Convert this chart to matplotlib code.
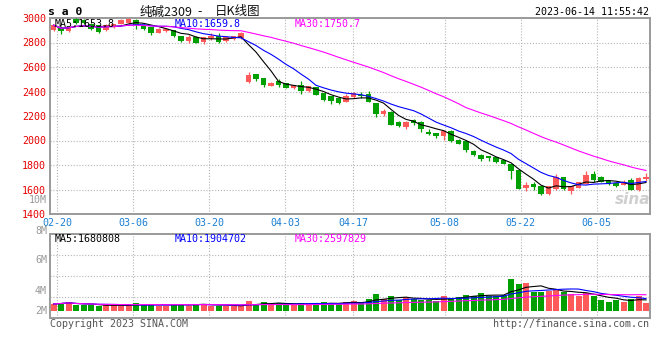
import matplotlib
matplotlib.use("Agg")
import matplotlib.pyplot as plt
import numpy as np
import pandas as pd

# ---------------- data ----------------
opens = [2900, 2919, 2892, 2990, 2985, 2955, 2940, 2902, 2925, 2955,
         2960, 2980, 2946, 2927, 2881, 2892, 2900, 2850, 2815, 2845,
         2808, 2837, 2857, 2813, 2827, 2835, 2477, 2542, 2510, 2447,
         2483, 2469, 2428, 2450, 2401, 2434, 2388, 2360, 2350, 2317,
         2353, 2372, 2380, 2304, 2217, 2236, 2150, 2114, 2168, 2150,
         2068, 2060, 2038, 2079, 2005, 1992, 1916, 1884, 1870, 1862,
         1837, 1810, 1756, 1613, 1645, 1626, 1567, 1607, 1698, 1590,
         1613, 1648, 1727, 1702, 1667, 1653, 1640, 1676, 1594, 1682]
highs = [2952, 2925, 2932, 2998, 2995, 2962, 2945, 2952, 2955, 2990,
         3000, 2990, 2950, 2930, 2920, 2920, 2905, 2855, 2858, 2850,
         2845, 2875, 2874, 2845, 2853, 2889, 2558, 2545, 2512, 2478,
         2504, 2472, 2455, 2483, 2446, 2438, 2390, 2363, 2355, 2382,
         2398, 2393, 2405, 2306, 2258, 2240, 2163, 2160, 2177, 2163,
         2090, 2062, 2082, 2085, 2010, 1995, 1920, 1886, 1873, 1866,
         1840, 1812, 1760, 1660, 1660, 1630, 1630, 1727, 1705, 1630,
         1665, 1751, 1750, 1710, 1672, 1660, 1678, 1690, 1700, 1735]
lows = [2893, 2867, 2885, 2955, 2950, 2900, 2880, 2895, 2920, 2950,
        2955, 2912, 2905, 2865, 2875, 2885, 2848, 2805, 2800, 2795,
        2786, 2822, 2800, 2808, 2822, 2832, 2469, 2488, 2434, 2443,
        2434, 2425, 2424, 2382, 2395, 2370, 2325, 2300, 2300, 2315,
        2350, 2350, 2315, 2192, 2204, 2125, 2109, 2090, 2127, 2071,
        2046, 2017, 2004, 1990, 1968, 1910, 1870, 1835, 1830, 1815,
        1805, 1683, 1603, 1586, 1600, 1559, 1555, 1600, 1598, 1565,
        1610, 1645, 1665, 1660, 1640, 1620, 1635, 1595, 1590, 1670]
closes = [2941, 2892, 2927, 2963, 2958, 2910, 2888, 2945, 2950, 2980,
          2993, 2946, 2914, 2881, 2914, 2912, 2855, 2812, 2845, 2800,
          2841, 2855, 2805, 2841, 2849, 2881, 2537, 2502, 2450, 2472,
          2450, 2428, 2450, 2401, 2442, 2374, 2333, 2320, 2305, 2363,
          2385, 2367, 2317, 2217, 2241, 2128, 2122, 2155, 2141, 2095,
          2055, 2033, 2079, 1992, 1975, 1924, 1878, 1851, 1857, 1824,
          1810, 1748, 1605, 1640, 1618, 1567, 1626, 1700, 1601, 1626,
          1659, 1721, 1681, 1662, 1645, 1630, 1665, 1598, 1690, 1702]
volumes_m = [1.19, 1.36, 1.60, 1.00, 1.00, 1.00, 0.83, 1.00, 1.00, 0.90,
             0.90, 1.36, 1.00, 1.19, 0.90, 0.90, 1.19, 1.19, 0.90, 1.19,
             1.19, 0.90, 0.90, 0.90, 0.83, 0.83, 1.72, 1.19, 1.54, 1.00,
             1.36, 1.30, 1.00, 1.36, 1.00, 1.36, 1.54, 1.31, 1.31, 1.49,
             1.72, 1.31, 2.07, 2.95, 2.07, 2.60, 1.89, 2.48, 2.07, 1.89,
             1.89, 1.72, 2.65, 2.30, 2.48, 2.78, 2.60, 3.13, 2.65, 2.65,
             2.78, 5.60, 4.72, 4.96, 3.36, 3.36, 3.48, 3.84, 3.36, 3.00,
             2.65, 3.08, 2.65, 1.89, 1.60, 1.89, 1.60, 2.07, 2.60, 1.42]

tick_index = [1, 11, 21, 31, 40, 52, 62, 72]
tick_labels = ["02-20", "03-06", "03-20", "04-03", "04-17", "05-08", "05-22", "06-05"]
price_ticks = [1400, 1600, 1800, 2000, 2200, 2400, 2600, 2800, 3000]
vol_axis_labels = ["10M", "8M", "6M", "4M", "2M"]
price_ma_text = ["MA5:1653.8", "MA10:1659.8", "MA30:1750.7"]
vol_ma_text = ["MA5:1680808", "MA10:1904702", "MA30:2597829"]
title_parts = ["纯碱2309", "-", "日K线图"]
symbol_text = "s a 0"
time_text = "2023-06-14 11:55:42"
copyright_text = "Copyright 2023 SINA.COM"
url_text = "http://finance.sina.com.cn"

# ---------------- styling ----------------
W, H = 660, 360
UP = "#ff5a5a"
DOWN = "#00a000"
FRAME = "#9a9a9a"
GRID = "#b4b4b4"
MA_COLORS = ["#000000", "#0000ff", "#ff00ff"]
MONO = "DejaVu Sans Mono"
CJK = ["Noto Sans CJK SC", "DejaVu Sans"]
FS = 7.2

o = np.array(opens, float)
h = np.array(highs, float)
l = np.array(lows, float)
c = np.array(closes, float)
v = np.array(volumes_m, float)
n = len(c)
x = np.arange(n)
up = c >= o
colors = np.where(up, UP, DOWN)

cs = pd.Series(c)
vs = pd.Series(v)
price_mas = [cs.rolling(w, min_periods=1).mean().values for w in (5, 10, 30)]
vol_mas = [vs.rolling(w, min_periods=1).mean().values for w in (5, 10, 30)]

fig = plt.figure(figsize=(W / 100, H / 100), dpi=100)
fig.patch.set_facecolor("white")


def fx(px):
    return px / W


def fy(py):
    return 1 - py / H


ax = fig.add_axes([fx(50), fy(214), fx(600), 196 / H])
axv = fig.add_axes([fx(50), fy(318), fx(600), 84 / H])

xlim = (-0.467, 79.533)
grid_x = np.array(tick_index) * 1.0133 - 0.55

# ----- price panel -----
body = np.maximum(np.abs(c - o), 8)
ax.vlines(x, l, h, colors=colors, linewidth=0.9, zorder=3)
ax.bar(x, body, bottom=np.minimum(o, c), width=0.75, color=colors,
       linewidth=0, zorder=4)
for ma, col in zip(price_mas, MA_COLORS):
    ax.plot(x, ma, color=col, linewidth=0.8, zorder=5)

ax.set_xlim(*xlim)
ax.set_ylim(1400, 3000)
ax.set_yticks(price_ticks)
ax.set_yticklabels([str(t) for t in price_ticks], color="#e60000",
                   fontfamily=MONO, fontsize=FS)
ax.set_xticks(grid_x)
ax.set_xticklabels(tick_labels, color="#1a7fd4", fontfamily=MONO, fontsize=FS)
ax.tick_params(length=0, pad=3)
ax.grid(True, color=GRID, linestyle=(0, (1, 1.6)), linewidth=0.8, zorder=0)
ax.set_axisbelow(True)

# ----- volume panel -----
axv.bar(x, v, width=0.8, color=colors, linewidth=0, zorder=3)
for ma, col in zip(vol_mas, MA_COLORS):
    axv.plot(x, ma, color=col, linewidth=0.8, zorder=4)
axv.set_xlim(*xlim)
vlo, vhi = -1.29, 13.58
axv.set_ylim(vlo, vhi)
axv.set_yticks([vlo + (vhi - vlo) * f for f in (0.25, 0.5, 0.75)])
axv.set_yticklabels([])
axv.set_xticks(grid_x)
axv.set_xticklabels([])
axv.tick_params(length=0)
axv.grid(True, color=GRID, linestyle=(0, (1, 1.6)), linewidth=0.8, zorder=0)
axv.set_axisbelow(True)

for a in (ax, axv):
    for s in a.spines.values():
        s.set_color(FRAME)
        s.set_linewidth(1.4)

# ----- texts -----
fig.text(fx(48), fy(12), symbol_text, fontfamily=MONO, fontweight="bold",
         fontsize=8.2, color="black", va="center", ha="left")
fig.text(fx(140), fy(12), title_parts[0], family=CJK, fontsize=9,
         color="#111111", va="center", ha="left")
fig.text(fx(200), fy(12), title_parts[1], family=CJK, fontsize=9,
         color="#111111", va="center", ha="center")
fig.text(fx(215), fy(12), title_parts[2], family=CJK, fontsize=9,
         color="#111111", va="center", ha="left")
fig.text(fx(649), fy(12), time_text, fontfamily=MONO, fontsize=FS,
         color="black", va="center", ha="right")

for txt, col, px in zip(price_ma_text, MA_COLORS, (55, 175, 295)):
    fig.text(fx(px), fy(24), txt, fontfamily=MONO, fontsize=FS, color=col,
             va="center", ha="left", zorder=10)
for txt, col, px in zip(vol_ma_text, MA_COLORS, (55, 175, 295)):
    fig.text(fx(px), fy(239), txt, fontfamily=MONO, fontsize=FS, color=col,
             va="center", ha="left", zorder=10)

for txt, py in zip(vol_axis_labels, (200, 231, 260, 291, 311)):
    fig.text(fx(47), fy(py), txt, fontfamily=MONO, fontsize=FS,
             color="#999999", va="center", ha="right")

fig.text(fx(50), fy(324), copyright_text, fontfamily=MONO, fontsize=FS,
         color="#555555", va="center", ha="left")
fig.text(fx(649), fy(324), url_text, fontfamily=MONO, fontsize=FS,
         color="#555555", va="center", ha="right")

fig.text(fx(633), fy(199), "sina", fontfamily="DejaVu Sans", fontsize=11,
         fontweight="bold", fontstyle="italic", color="#cfcfcf",
         va="center", ha="center", zorder=1)

fig.savefig("out.png", dpi=100)
